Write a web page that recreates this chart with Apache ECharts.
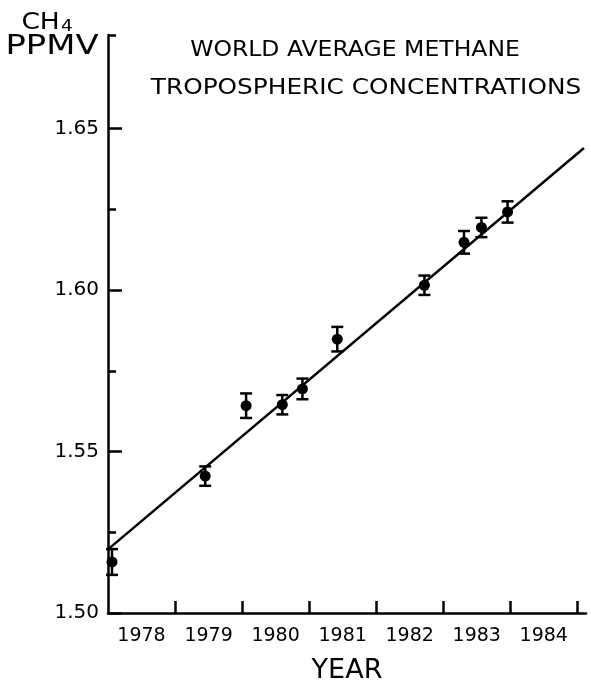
<!DOCTYPE html>
<html>
<head>
<meta charset="utf-8">
<script src="https://cdn.jsdelivr.net/npm/echarts@6/dist/echarts.min.js"></script>
<style>html,body{margin:0;padding:0;background:#fff;}#c{width:591px;height:689px;}</style>
</head>
<body>
<div id="c"></div>
<script>
// ---- data ----
var years  = [1978.06, 1979.45, 1980.06, 1980.60, 1980.90, 1981.42, 1982.72, 1983.31, 1983.57, 1983.96];
var values = [1.5158, 1.5424, 1.5642, 1.5645, 1.5694, 1.5848, 1.6015, 1.6148, 1.6194, 1.6242];
var errors = [0.0040, 0.0030, 0.0038, 0.0030, 0.0032, 0.0038, 0.0030, 0.0035, 0.0030, 0.0033];
var fitLine = [[1978.0, 1.5197], [1985.1, 1.6440]];
var yearTicks = [1979, 1980, 1981, 1982, 1983, 1984, 1985];
var yearLabels = [1978.5, 1979.5, 1980.5, 1981.5, 1982.5, 1983.5, 1984.5];
var yMajor = [1.50, 1.55, 1.60, 1.65];
var yMinor = [1.525, 1.575, 1.625];
var yTop = 1.679;
var titleLines = ['WORLD AVERAGE METHANE', 'TROPOSPHERIC CONCENTRATIONS'];

var points = years.map(function (y, i) { return [y, values[i]]; });
var errData = years.map(function (y, i) { return [y, values[i] - errors[i], values[i] + errors[i]]; });

var FONT = 'DejaVu Sans';
var chart = echarts.init(document.getElementById('c'), null, {renderer: 'canvas'});
chart.setOption({
  backgroundColor: '#fff',
  animation: false,
  grid: {left: 108, right: 5, top: 35, bottom: 62, containLabel: false},
  graphic: [
    {type: 'text', x: 355, y: 51, scaleX: 1.12,
      style: {text: titleLines[0], font: '21px "' + FONT + '"', fill: '#000', textAlign: 'center', textVerticalAlign: 'middle'}},
    {type: 'text', x: 366, y: 89, scaleX: 1.18,
      style: {text: titleLines[1], font: '21px "' + FONT + '"', fill: '#000', textAlign: 'center', textVerticalAlign: 'middle'}},
    {type: 'text', x: 52, y: 47, scaleX: 1.3,
      style: {text: 'PPMV', font: '26px "' + FONT + '"', fill: '#000', textAlign: 'center', textVerticalAlign: 'middle'}},
    {type: 'text', x: 47, y: 23, scaleX: 1.15,
      style: {text: '{a|CH}{s|4}', fill: '#000', textAlign: 'center', textVerticalAlign: 'middle',
        rich: {a: {fontFamily: FONT, fontSize: 23, fill: '#000'}, s: {fontFamily: FONT, fontSize: 16, fill: '#000', verticalAlign: 'bottom', padding: [8, 0, 0, 1]}}}}
  ],
  xAxis: {
    type: 'value', min: 1978, max: 1985.13,
    name: 'YEAR', nameLocation: 'middle', nameGap: 44,
    nameTextStyle: {fontFamily: FONT, fontSize: 27, color: '#000'},
    axisLine: {show: true, lineStyle: {color: '#000', width: 2.5}},
    axisTick: {show: true, inside: true, length: 12, lineStyle: {color: '#000', width: 2.5}, customValues: yearTicks},
    axisLabel: {show: true, customValues: yearLabels, margin: 14, color: '#000', fontFamily: FONT, fontSize: 19,
      formatter: function (v) { return String(Math.floor(v)); }},
    splitLine: {show: false}
  },
  yAxis: [{
    type: 'value', min: 1.50, max: yTop, position: 'left',
    axisLine: {show: true, onZero: false, lineStyle: {color: '#000', width: 2.5}},
    axisTick: {show: true, inside: true, length: 14, lineStyle: {color: '#000', width: 2.5}, customValues: yMajor},
    axisLabel: {show: true, customValues: yMajor, margin: 9, color: '#000', fontFamily: FONT, fontSize: 20,
      formatter: function (v) { return v.toFixed(2); }},
    splitLine: {show: false}
  }, {
    type: 'value', min: 1.50, max: yTop, position: 'left', offset: 0,
    axisLine: {show: false},
    axisTick: {show: true, inside: true, length: 8, lineStyle: {color: '#000', width: 2.5}, customValues: yMinor.concat([yTop])},
    axisLabel: {show: false},
    splitLine: {show: false}
  }],
  series: [
    {type: 'line', data: fitLine, showSymbol: false, symbol: 'none', lineStyle: {color: '#000', width: 2.5}, z: 2},
    {type: 'custom', data: errData, z: 3,
      renderItem: function (params, api) {
        var x = api.value(0);
        var lo = api.coord([x, api.value(1)]);
        var hi = api.coord([x, api.value(2)]);
        var hw = 6;
        var st = {stroke: '#000', lineWidth: 2.5};
        return {type: 'group', children: [
          {type: 'line', shape: {x1: lo[0], y1: lo[1], x2: hi[0], y2: hi[1]}, style: st},
          {type: 'line', shape: {x1: lo[0] - hw, y1: lo[1], x2: lo[0] + hw, y2: lo[1]}, style: st},
          {type: 'line', shape: {x1: hi[0] - hw, y1: hi[1], x2: hi[0] + hw, y2: hi[1]}, style: st}
        ]};
      }},
    {type: 'scatter', data: points, symbol: 'circle', symbolSize: 11, itemStyle: {color: '#000', opacity: 1}, z: 4}
  ]
});
</script>
</body>
</html>
